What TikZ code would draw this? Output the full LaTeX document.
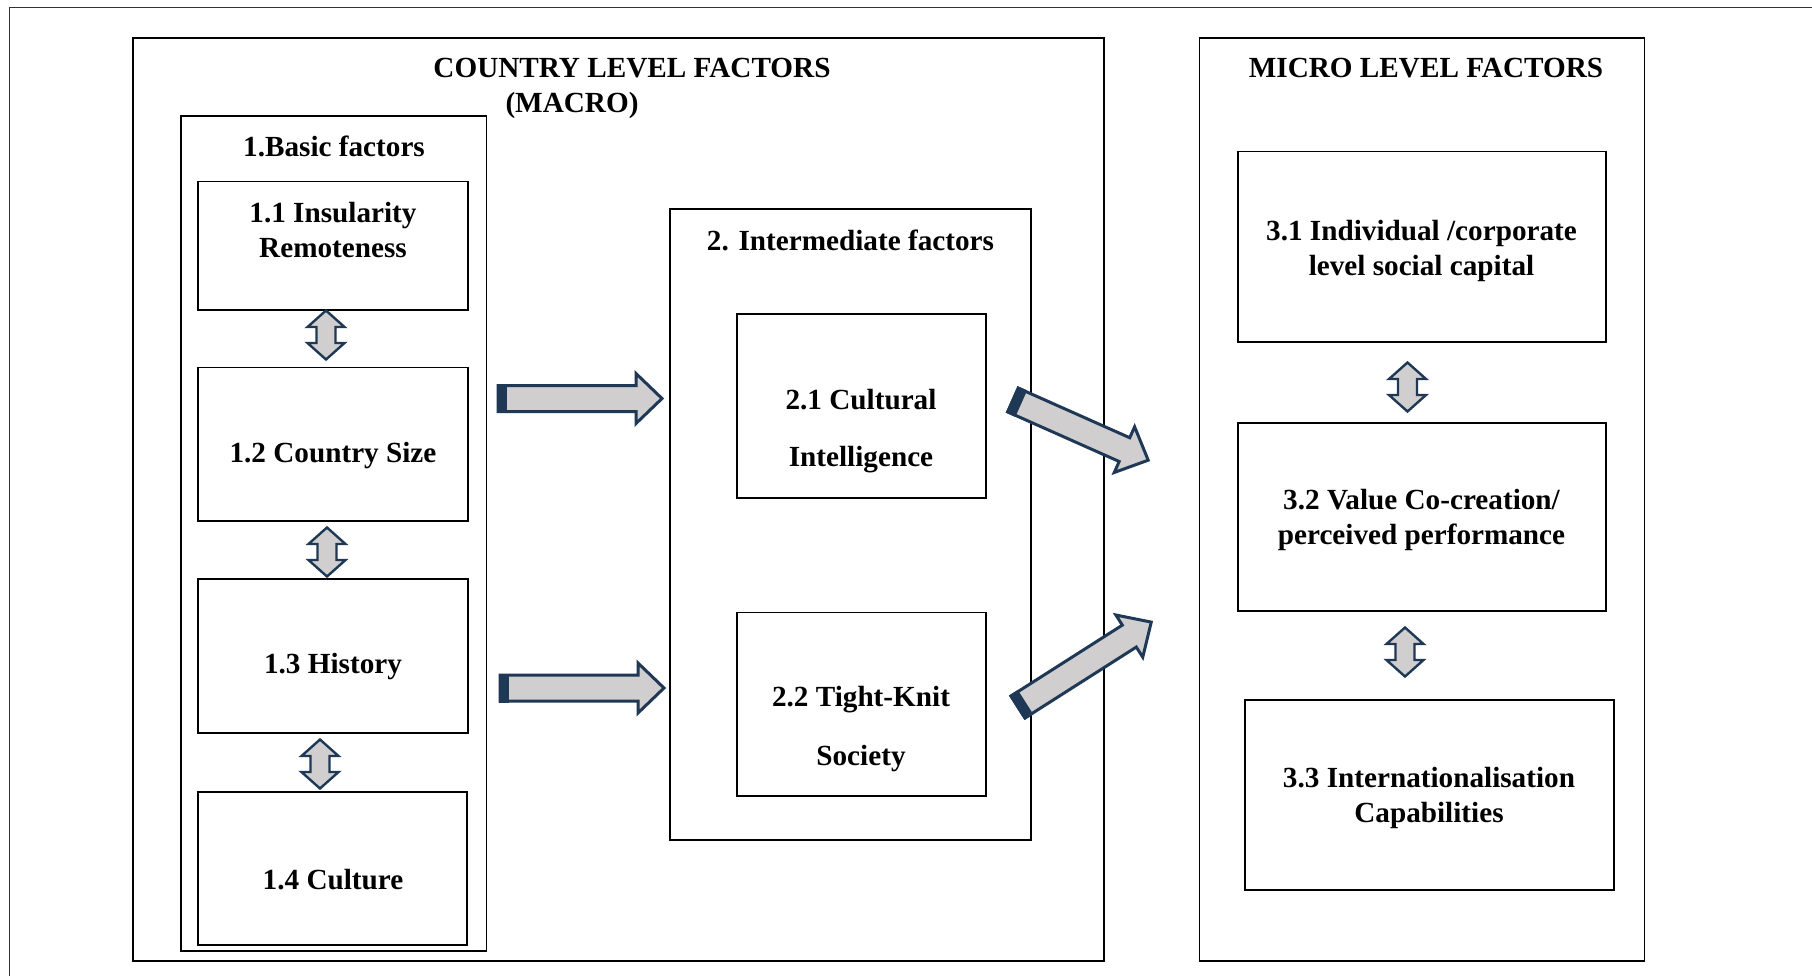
\documentclass[tikz,border=0pt]{standalone}
\usepackage{fontspec}
\setmainfont{Liberation Serif}
\definecolor{arrowline}{RGB}{31,56,86}
\definecolor{arrowfill}{RGB}{208,206,206}
\tikzset{
  frame/.style={draw=black, line width=0.9pt},
  outer/.style={draw=black!80, line width=0.9pt},
  txt/.style={font=\fontsize{14.6}{17.5}\selectfont\bfseries, align=center, inner sep=0pt, yshift=-1.2pt},
  blockarrow/.style={draw=arrowline, fill=arrowfill, line width=1.5pt, line join=miter},
  dblarrow/.style={draw=arrowline, fill=arrowfill, line width=1.2pt, line join=miter},
  arrowcap/.style={fill=arrowline},
}

\begin{document}
\begin{tikzpicture}[x=0.5pt,y=-0.5pt]
\useasboundingbox (0,0) rectangle (1812,976);
\def\hw{13}
\def\hh{25}
\def\hl{26}

% outer frame
\draw[outer] (1812,7.5) -- (9.5,7.5) -- (9.5,976);

% macro side
\draw[frame] (133,38) rectangle (1104,961);
\node[txt] (macrotitle) at (632,66) {COUNTRY LEVEL FACTORS};
\node[txt] (macrosub) at (572,103) {(MACRO)};

\draw[frame] (181,116) rectangle (486.5,951);
\node[txt] (basic) at (334,144.5) {1.Basic factors};
\draw[frame] (197.6,181.4) rectangle (468,309.7);
\node[txt] (insularity) at (333,228) {1.1 Insularity\\Remoteness};
\draw[frame] (197.6,367.5) rectangle (468,521);
\node[txt] (size) at (333,453) {1.2 Country Size};
\draw[frame] (197.6,579) rectangle (468,732.6);
\node[txt] (history) at (333,664.5) {1.3 History};
\draw[frame] (197.6,791.6) rectangle (467,945);
\node[txt] (culture) at (333,877) {1.4 Culture};

\draw[frame] (670,209) rectangle (1031,840);
\node[txt] (inter) at (850.5,238) {2. Intermediate factors};
\draw[frame] (737,314) rectangle (986,498);
\node[txt] (cq) at (861,429) {2.1 Cultural\\[11pt]Intelligence};
\draw[frame] (737,612.5) rectangle (986,796);
\node[txt] (tight) at (861,726.5) {2.2 Tight-Knit\\[12pt]Society};

% micro side
\draw[frame] (1199.5,38) rectangle (1644.5,961);
\node[txt] (microtitle) at (1426,66) {MICRO LEVEL FACTORS};
\draw[frame] (1237.6,151.4) rectangle (1606,342);
\node[txt] (social) at (1421.5,248.5) {3.1 Individual /corporate\\level social capital};
\draw[frame] (1237.6,423) rectangle (1606,611);
\node[txt] (value) at (1421.5,517.5) {3.2 Value Co-creation/\\perceived performance};
\draw[frame] (1244.6,700) rectangle (1614,890);
\node[txt] (intl) at (1429,795.5) {3.3 Internationalisation\\Capabilities};

% block arrows
\begin{scope}[shift={(498,398.5)}] %basic -> 2.1
\def\L{164}
\draw[blockarrow] (0,-\hw) -- (\L-\hl,-\hw) -- (\L-\hl,-\hh) -- (\L,0)
 -- (\L-\hl,\hh) -- (\L-\hl,\hw) -- (0,\hw) -- cycle;
\fill[arrowcap] (-1.5,-\hw-1.5) rectangle (9,\hw+1.5);
\end{scope}

\begin{scope}[shift={(500,688)}] %basic -> 2.2
\def\L{164}
\draw[blockarrow] (0,-\hw) -- (\L-\hl,-\hw) -- (\L-\hl,-\hh) -- (\L,0)
 -- (\L-\hl,\hh) -- (\L-\hl,\hw) -- (0,\hw) -- cycle;
\fill[arrowcap] (-1.5,-\hw-1.5) rectangle (9,\hw+1.5);
\end{scope}

\begin{scope}[shift={(1013,400)},rotate=-24] %2.1 -> micro
\def\L{148}
\draw[blockarrow] (0,-\hw) -- (\L-\hl,-\hw) -- (\L-\hl,-\hh) -- (\L,0)
 -- (\L-\hl,\hh) -- (\L-\hl,\hw) -- (0,\hw) -- cycle;
\fill[arrowcap] (-1.5,-\hw-1.5) rectangle (9,\hw+1.5);
\end{scope}

\begin{scope}[shift={(1018,707)},rotate=32.5] %2.2 -> micro
\def\L{158}
\draw[blockarrow] (0,-\hw) -- (\L-\hl,-\hw) -- (\L-\hl,-\hh) -- (\L,0)
 -- (\L-\hl,\hh) -- (\L-\hl,\hw) -- (0,\hw) -- cycle;
\fill[arrowcap] (-1.5,-\hw-1.5) rectangle (9,\hw+1.5);
\end{scope}

% double arrows
\foreach \px/\py in {326/335, 327/552, 320/764, 1407.5/387, 1405/652}{
\begin{scope}[shift={(\px,\py)}]
\draw[dblarrow] (0,-24.5) -- (18.5,-8) -- (9.5,-8) -- (9.5,8) -- (18.5,8)
 -- (0,24.5) -- (-18.5,8) -- (-9.5,8) -- (-9.5,-8) -- (-18.5,-8) -- cycle;
\end{scope}
}

\end{tikzpicture}
\end{document}
